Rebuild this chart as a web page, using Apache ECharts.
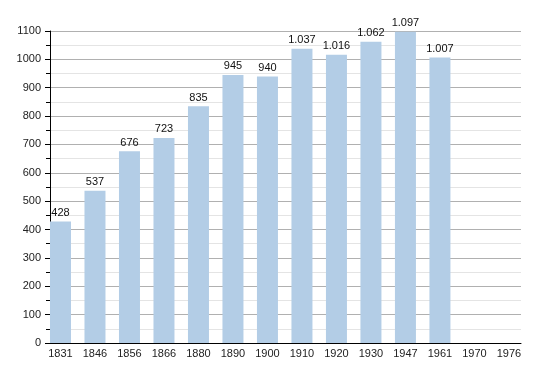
<!DOCTYPE html>
<html><head><meta charset="utf-8">
<script src="https://cdn.jsdelivr.net/npm/echarts@6/dist/echarts.min.js"></script>
<style>html,body{margin:0;padding:0;background:#fff}#c{width:550px;height:373px}</style>
</head><body><div id="c"></div>
<script>
const categories = ['1831','1846','1856','1866','1880','1890','1900','1910','1920','1930','1947','1961','1970','1976'];
const population = [428,537,676,723,835,945,940,1037,1016,1062,1097,1007,null,null];
const yTicks = [0,100,200,300,400,500,600,700,800,900,1000,1100];

function fmt(v){
  const s = String(v);
  return s.length > 3 ? s.slice(0, s.length-3) + '.' + s.slice(-3) : s;
}
const chart = echarts.init(document.getElementById('c'), null, {renderer:'canvas'});
const idx = categories.map((c,i)=>i);
chart.setOption({
  animation:false,
  grid:{left:50,right:29,top:31,bottom:30,containLabel:false},
  xAxis:{
    type:'value', min:-0.304, max:13.35,
    axisLine:{show:true,onZero:false,lineStyle:{color:'#000',width:1}},
    axisTick:{show:false},
    splitLine:{show:false},
    axisLabel:{customValues:idx, formatter:v=>categories[Math.round(v)], color:'#222', fontSize:11, fontFamily:'Liberation Sans, Arial, sans-serif', margin:5}
  },
  yAxis:{
    type:'value', min:0, max:1100, interval:100,
    axisLine:{show:true,onZero:false,lineStyle:{color:'#000',width:1}},
    axisTick:{show:true,length:5,lineStyle:{color:'#000'}},
    minorTick:{show:true,splitNumber:2,length:4,lineStyle:{color:'#000'}},
    splitLine:{show:true,lineStyle:{color:'#b0b0b0',width:1}},
    minorSplitLine:{show:true,lineStyle:{color:'#e4e4e4',width:1}},
    axisLabel:{color:'#222',fontSize:11,fontFamily:'Liberation Sans, Arial, sans-serif',margin:9, formatter:v=>String(v)}
  },
  series:[{
    type:'bar',
    barWidth:21,
    itemStyle:{color:'#b3cde6'},
    data: population.map((v,i)=>[i,v]),
    label:{show:true,position:'top',distance:3,color:'#111',fontSize:11,fontFamily:'Liberation Sans, Arial, sans-serif',
      formatter:p=>p.value[1]==null?'':fmt(p.value[1])}
  }]
});
</script></body></html>
